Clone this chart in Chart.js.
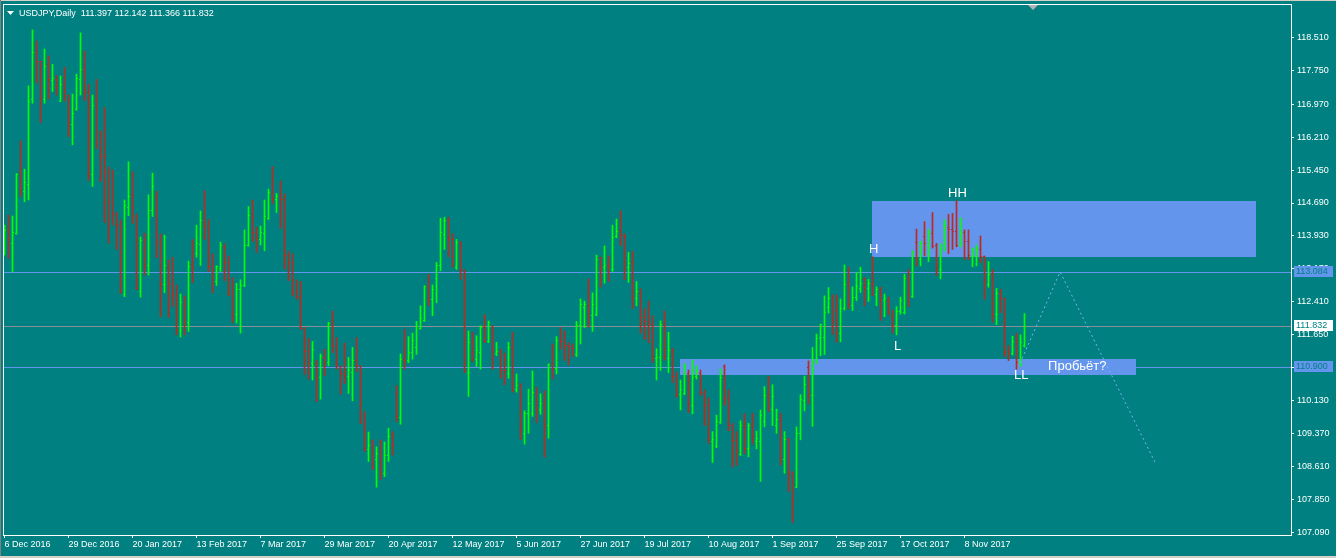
<!DOCTYPE html>
<html>
<head>
<meta charset="utf-8">
<title>USDJPY Daily</title>
<script src="https://cdn.jsdelivr.net/npm/chart.js@4/dist/chart.umd.min.js"></script>
<style>
  html, body { margin: 0; padding: 0; background: #008080; overflow: hidden; }
  canvas { display: block; }
</style>
</head>
<body>
<canvas id="usdjpyChart" width="1336" height="558"></canvas>
<script>
// daily bars, 6 Dec 2016 .. end of Nov 2017 (one value per bar)
const opens = [
  113.53,114.05,113.76,113.99,115.41,114.96,115.12,117.08,118.16,117.95,
  117.08,117.89,117.52,117.54,117.04,117.43,117.16,116.50,116.85,117.53,
  117.74,117.24,115.34,117.03,115.80,115.76,115.40,114.71,114.41,114.18,
  112.59,114.59,114.85,114.38,112.65,113.61,113.26,114.52,114.84,113.76,
  112.80,113.21,112.82,112.49,111.75,112.36,111.93,113.25,113.53,113.74,
  114.21,114.13,113.22,112.88,113.18,113.68,113.31,112.65,112.13,112.69,
  112.78,113.72,114.38,114.01,113.84,113.98,114.34,114.93,114.76,114.85,
  114.76,113.47,113.31,112.65,112.53,111.79,111.26,110.99,110.99,110.67,
  111.13,111.02,111.90,111.38,110.92,110.75,110.70,110.79,111.06,110.94,
  109.63,109.01,109.07,108.77,108.92,108.46,108.86,109.30,110.32,109.75,
  111.09,111.07,111.25,111.36,111.80,111.99,112.75,112.46,112.95,113.25,
  113.97,114.28,113.88,113.20,113.78,113.13,110.79,111.48,111.09,111.25,
  111.82,111.49,111.76,111.21,111.24,110.84,110.75,111.36,110.38,110.47,
  109.38,109.83,109.83,110.33,109.94,110.07,109.57,110.96,110.88,111.52,
  111.49,111.40,111.38,111.19,111.86,112.29,112.32,112.09,112.11,113.43,
  113.20,113.25,113.15,113.91,114.03,113.94,113.21,113.30,112.49,112.61,
  112.06,111.96,111.90,111.10,111.13,111.90,111.11,111.28,110.69,110.27,
  110.30,110.75,110.03,110.70,110.75,110.32,110.03,109.20,109.07,109.64,
  110.92,110.19,109.56,109.21,108.90,109.57,109.04,109.57,109.19,109.19,
  109.65,110.25,109.94,109.55,109.71,108.78,109.23,108.46,108.14,109.38,
  110.14,110.90,110.25,111.03,111.59,111.60,112.28,112.49,112.22,111.69,
  112.25,112.80,112.32,112.52,112.71,112.92,112.72,112.84,112.57,112.69,
  112.44,112.42,112.07,111.86,112.20,112.17,112.94,112.53,113.78,113.39,
  113.91,113.72,113.99,113.72,113.16,113.72,114.13,114.08,114.03,113.72,
  114.01,113.80,113.45,113.45,113.61,113.45,112.80,113.05,112.13,112.61,
  112.49,111.26,111.23,111.50,111.01,111.397
];
const highs = [
  114.18,114.41,114.39,115.37,116.12,115.47,117.39,118.68,118.42,117.96,
  118.24,118.08,117.89,117.63,117.62,117.82,117.18,117.20,117.66,118.61,
  118.19,117.43,117.18,117.54,116.35,116.89,115.52,115.45,114.48,114.30,
  114.76,115.64,115.41,114.44,113.91,113.99,114.88,115.38,114.96,113.98,
  113.95,113.37,113.44,112.80,112.59,112.55,113.35,113.85,114.18,114.51,
  114.97,114.31,113.52,113.24,113.79,113.75,113.47,112.97,112.84,112.92,
  114.07,114.61,114.76,114.13,114.16,114.76,115.01,115.53,114.91,115.20,
  114.90,113.57,113.52,112.92,112.88,111.82,111.57,111.50,111.06,111.21,
  111.32,111.94,112.20,111.59,110.93,111.46,111.13,111.36,111.59,110.94,
  109.88,109.41,109.23,109.07,109.23,109.18,109.50,109.42,110.48,111.21,
  111.78,111.61,111.69,111.96,112.32,112.78,113.05,112.80,113.32,114.34,
  114.36,114.36,113.98,113.85,113.80,113.15,111.74,111.71,111.63,111.86,
  112.12,111.97,111.86,111.48,111.32,111.23,111.48,111.71,110.75,110.53,
  109.90,110.40,110.82,110.44,110.29,110.36,110.98,111.44,111.61,111.82,
  111.74,111.47,111.44,111.96,112.48,112.43,112.94,112.62,113.49,113.44,
  113.70,113.47,114.18,114.32,114.51,113.98,113.55,113.58,112.88,112.71,
  112.25,112.43,112.09,111.33,111.97,112.20,111.71,111.34,110.79,110.61,
  110.99,110.84,111.07,110.93,110.84,110.38,110.20,109.42,109.80,110.86,
  110.96,110.38,109.61,109.42,109.67,109.83,109.61,109.84,109.43,109.92,
  110.46,110.69,110.50,109.94,109.84,109.42,109.27,108.50,109.53,110.27,
  110.70,111.05,111.36,111.67,111.90,112.55,112.74,112.57,112.57,112.48,
  113.26,113.21,112.76,113.09,113.21,112.97,112.93,113.45,112.76,112.75,
  112.59,112.52,112.22,112.30,112.52,113.05,113.16,113.58,114.09,113.81,
  114.26,114.08,114.47,113.76,113.75,114.30,114.43,114.45,114.74,114.35,
  114.07,114.07,113.65,113.72,113.93,113.47,113.34,113.16,112.72,112.70,
  112.50,111.40,111.62,111.69,111.65,112.142
];
const lows = [
  113.49,113.42,113.11,113.97,114.84,114.72,114.76,116.99,117.46,116.54,
  116.99,117.09,117.26,117.18,117.03,117.04,116.22,116.03,116.83,117.18,
  117.05,115.21,115.07,115.94,115.18,114.24,113.76,114.18,113.62,112.61,
  112.53,114.40,114.22,112.70,112.52,113.03,113.03,114.38,113.43,112.07,
  112.62,112.05,112.30,111.65,111.60,111.65,111.73,112.85,113.44,113.25,
  113.85,113.11,112.62,112.79,113.11,112.90,112.55,111.93,111.92,111.69,
  112.76,113.69,113.80,113.55,113.72,113.59,114.31,114.67,114.47,114.11,
  113.17,112.90,112.55,112.47,111.78,110.74,110.63,110.61,110.11,110.17,
  110.71,110.94,111.24,110.86,110.28,110.53,110.30,110.13,110.80,109.61,
  108.97,108.73,108.55,108.14,108.32,108.38,108.73,108.88,109.65,109.59,
  110.86,111.01,111.09,111.20,111.78,111.96,112.32,112.09,112.39,113.13,
  113.62,113.45,113.21,113.16,112.93,110.78,110.23,111.03,110.92,110.86,
  111.47,111.47,110.86,111.17,110.65,110.50,110.65,110.33,110.33,109.24,
  109.13,109.38,109.77,109.63,109.82,108.83,109.27,110.63,110.75,111.32,
  111.06,110.96,111.15,111.15,111.44,111.82,111.83,111.73,112.09,112.75,
  112.84,112.88,113.11,113.89,113.71,112.92,112.86,112.26,112.32,111.69,
  111.55,111.47,111.01,110.61,110.83,111.06,110.78,110.55,110.21,109.92,
  110.27,109.86,109.83,110.63,110.25,109.56,109.15,108.71,109.05,109.61,
  110.03,109.44,108.60,108.64,108.87,108.91,108.84,109.13,109.02,108.27,
  109.53,109.88,109.56,109.38,108.65,108.46,108.04,107.32,108.13,109.23,
  109.90,110.06,109.54,110.99,111.17,111.20,112.15,111.66,111.48,111.49,
  112.22,112.25,112.21,112.44,112.63,112.32,112.42,112.55,112.32,111.98,
  112.07,112.11,111.69,111.65,112.13,112.13,112.30,112.51,113.24,113.24,
  113.47,113.34,113.65,113.02,112.94,113.59,113.52,113.62,113.68,113.68,
  113.39,113.38,113.22,113.24,113.32,112.47,112.75,111.94,111.89,112.16,
  111.15,111.06,111.19,110.86,110.93,111.366
];
const closes = [
  114.05,113.84,114.02,115.34,115.03,115.17,117.04,118.16,117.95,117.10,
  117.83,117.54,117.55,117.37,117.43,117.27,116.55,116.76,117.56,117.76,
  117.26,115.34,116.94,116.07,115.76,115.40,114.72,114.45,114.18,112.63,
  114.64,114.85,114.59,112.72,113.82,113.26,114.52,115.08,113.80,112.80,
  113.26,112.84,112.59,111.75,112.40,111.93,113.22,113.21,113.76,114.28,
  114.16,113.22,113.13,113.22,113.70,113.31,112.61,112.13,112.70,112.78,
  113.72,114.41,114.01,113.88,114.00,114.38,114.93,114.76,114.85,114.76,
  113.47,113.31,112.65,112.53,111.79,111.26,110.99,111.32,110.67,111.15,
  111.02,111.92,111.40,110.96,110.75,110.71,110.83,111.06,110.94,109.63,
  109.00,109.10,108.58,108.92,108.46,108.86,109.30,109.09,109.77,111.09,
  111.07,111.25,111.53,111.84,112.02,112.76,112.46,112.69,113.26,114.02,
  114.28,113.88,113.84,113.78,113.15,110.80,111.48,111.25,111.30,111.82,
  111.49,111.94,111.29,111.26,110.84,110.82,111.36,110.37,110.48,109.42,
  109.83,110.06,110.33,109.94,110.07,109.57,110.96,110.88,111.53,111.49,
  111.40,111.38,111.33,111.86,112.36,112.34,112.19,112.36,113.39,113.19,
  113.26,113.22,113.90,114.03,113.94,113.91,113.30,112.53,112.65,112.06,
  111.96,111.90,111.13,111.13,111.90,111.16,111.28,110.69,110.27,110.40,
  110.93,110.06,110.67,110.80,110.32,110.03,109.23,109.23,109.65,110.67,
  110.19,109.56,109.21,108.96,109.57,109.04,109.57,109.34,109.25,109.78,
  110.25,109.98,110.24,109.71,108.79,109.23,108.46,107.86,109.38,110.17,
  110.50,110.25,110.86,111.57,111.88,112.17,112.49,111.99,111.69,112.26,
  112.82,112.35,112.52,112.76,112.84,112.74,112.84,112.82,112.69,112.57,
  112.49,112.32,111.86,112.20,112.45,112.95,112.55,113.57,113.41,113.76,
  113.75,113.99,113.68,113.16,113.61,114.16,114.08,114.03,113.72,113.99,
  113.80,113.47,113.61,113.61,113.45,112.88,113.05,112.12,112.61,112.49,
  111.24,111.22,111.50,111.01,111.47,111.832
];

// time axis: a label every 16 bars
const dateLabels = ['6 Dec 2016', '29 Dec 2016', '20 Jan 2017', '13 Feb 2017', '7 Mar 2017', '29 Mar 2017',
  '20 Apr 2017', '12 May 2017', '5 Jun 2017', '27 Jun 2017', '19 Jul 2017', '10 Aug 2017',
  '1 Sep 2017', '25 Sep 2017', '17 Oct 2017', '8 Nov 2017'];
const dateStep = 16;

// price axis
const priceTicks = [107.09, 107.85, 108.61, 109.37, 110.13, 110.89, 111.65, 112.41,
  113.17, 113.93, 114.69, 115.45, 116.21, 116.97, 117.75, 118.51];

// horizontal levels and the bid line
const levelPrices = [113.084, 110.900];
const bidPrice = 111.832;

// drawn objects: zones (bar index / price), forecast path, text marks
const zoneStart = [216.9, 168.9];
const zoneEnd = [312.9, 282.9];
const zoneTop = [114.736, 111.094];
const zoneBottom = [113.452, 110.725];

const forecastX = [253.9, 263.9, 287.6];
const forecastY = [111.00, 113.10, 108.72];

const markText = ['HH', 'H', 'L', 'LL', 'Пробьёт?'];
const markX = [235.9, 216.1, 222.4, 252.4, 260.9];
const markY = [115.07, 113.78, 111.54, 110.875, 111.08];

const symbolTitle = 'USDJPY,Daily';
const lastBar = [111.397, 112.142, 111.366, 111.832];

const BG = '#008080';
const BULL = '#00ff00';
const BEAR = '#c0281e';
const ZONE = '#6495ed';
const WHITE = '#ffffff';

Chart.defaults.font.family = '"Liberation Sans", Arial, sans-serif';
Chart.defaults.font.size = 9;
Chart.defaults.color = WHITE;

const barColors = closes.map((c, i) => (c >= opens[i] ? BULL : BEAR));

const mt4Plugin = {
  id: 'mt4',
  beforeDraw(chart) {
    const { ctx, width, height } = chart;
    ctx.save();
    ctx.fillStyle = BG;
    ctx.fillRect(0, 0, width, height);
    ctx.fillStyle = '#d4d0c8';
    ctx.fillRect(0, 0, width, 1);
    ctx.fillRect(0, height - 2, width, 2);
    ctx.fillStyle = '#808080';
    ctx.fillRect(0, 0, 1, height - 2);
    ctx.restore();
  },
  beforeDatasetsDraw(chart) {
    const { ctx, chartArea: a, scales: { x, y } } = chart;
    ctx.save();
    ctx.beginPath();
    ctx.rect(a.left, a.top, a.right - a.left, a.bottom - a.top);
    ctx.clip();
    ctx.fillStyle = ZONE;
    zoneStart.forEach((s, k) => {
      const x0 = Math.round(x.getPixelForValue(s));
      const x1 = Math.round(x.getPixelForValue(zoneEnd[k]));
      const y0 = Math.round(y.getPixelForValue(zoneTop[k]));
      const y1 = Math.round(y.getPixelForValue(zoneBottom[k]));
      ctx.fillRect(x0, y0, x1 - x0, y1 - y0);
    });
    levelPrices.forEach(p => {
      ctx.fillRect(a.left, Math.floor(y.getPixelForValue(p)), a.right - a.left, 1);
    });
    ctx.fillStyle = '#8a8f98';
    ctx.fillRect(a.left, Math.floor(y.getPixelForValue(bidPrice)), a.right - a.left, 1);
    ctx.restore();
  },
  afterDatasetsDraw(chart) {
    const { ctx, chartArea: a, scales: { x, y } } = chart;
    ctx.save();
    // open / close ticks of each bar
    opens.forEach((o, i) => {
      const px = Math.floor(x.getPixelForValue(i));
      ctx.fillStyle = barColors[i];
      ctx.fillRect(px - 1, Math.floor(y.getPixelForValue(o)), 1, 1);
      ctx.fillRect(px + 1, Math.floor(y.getPixelForValue(closes[i])), 1, 1);
    });
    // text marks
    ctx.fillStyle = WHITE;
    ctx.font = '13px "Liberation Sans", Arial, sans-serif';
    ctx.textAlign = 'left';
    ctx.textBaseline = 'top';
    markText.forEach((t, k) => {
      ctx.fillText(t, x.getPixelForValue(markX[k]), y.getPixelForValue(markY[k]));
    });
    ctx.restore();
  },
  afterDraw(chart) {
    const { ctx, chartArea: a, scales: { x, y } } = chart;
    ctx.save();
    // frame
    ctx.strokeStyle = WHITE;
    ctx.lineWidth = 1;
    ctx.strokeRect(a.left + 0.5, a.top + 0.5, a.right - a.left, a.bottom - a.top);

    // chart shift marker
    const sx = Math.round(x.getPixelForValue(257.1));
    ctx.fillStyle = '#b4b4b4';
    ctx.beginPath();
    ctx.moveTo(sx - 5, a.top + 1);
    ctx.lineTo(sx + 5, a.top + 1);
    ctx.lineTo(sx, a.top + 6);
    ctx.closePath();
    ctx.fill();

    // price boxes on the axis
    ctx.font = '9px "Liberation Sans", Arial, sans-serif';
    ctx.textBaseline = 'middle';
    ctx.textAlign = 'left';
    const box = (price, fill) => {
      const py = Math.floor(y.getPixelForValue(price));
      ctx.fillStyle = fill;
      ctx.fillRect(a.right + 3, py - 6, 39, 11);
      ctx.fillStyle = BG;
      ctx.fillText(price.toFixed(3), a.right + 5, py);
    };
    levelPrices.forEach(p => box(p, ZONE));
    box(bidPrice, WHITE);

    // title
    ctx.fillStyle = WHITE;
    ctx.beginPath();
    ctx.moveTo(7, 11);
    ctx.lineTo(14, 11);
    ctx.lineTo(10.5, 15);
    ctx.closePath();
    ctx.fill();
    ctx.textBaseline = 'alphabetic';
    ctx.fillText(symbolTitle + '  ' + lastBar.map(v => v.toFixed(3)).join(' '), 19, 16);
    ctx.restore();
  }
};

const ctx = document.getElementById('usdjpyChart').getContext('2d');
const usdjpyChart = new Chart(ctx, {
  data: {
    datasets: [
      {
        type: 'line',
        label: 'forecast',
        data: forecastX.map((v, k) => ({ x: v, y: forecastY[k] })),
        borderColor: '#7ab4f0',
        borderWidth: 1,
        borderDash: [2, 3],
        pointRadius: 0,
        fill: false,
        tension: 0
      },
      {
        type: 'bar',
        label: 'USDJPY',
        data: highs.map((h, i) => ({ x: i, y: [lows[i], h] })),
        backgroundColor: barColors,
        borderWidth: 0,
        barThickness: 1,
        grouped: false
      }
    ]
  },
  options: {
    responsive: false,
    animation: false,
    events: [],
    layout: { padding: { left: 3, top: 4, right: 0, bottom: 0 } },
    plugins: { legend: { display: false }, tooltip: { enabled: false } },
    scales: {
      x: {
        type: 'linear',
        position: 'bottom',
        offset: false,
        min: -0.375,
        max: 321.625,
        afterBuildTicks: scale => {
          scale.ticks = dateLabels.map((d, k) => ({ value: k * dateStep }));
        },
        afterFit: scale => {
          scale.height = 23;
          scale.paddingLeft = 0;
          scale.paddingRight = 0;
        },
        grid: { offset: false, drawOnChartArea: false, drawTicks: true, tickLength: 3, color: WHITE },
        border: { display: false },
        ticks: {
          autoSkip: false,
          maxRotation: 0,
          align: 'start',
          padding: 1,
          color: WHITE,
          callback: (v, idx) => dateLabels[idx]
        }
      },
      y: {
        type: 'linear',
        position: 'right',
        min: 107.0366,
        max: 119.2776,
        afterBuildTicks: scale => {
          scale.ticks = priceTicks.map(v => ({ value: v }));
        },
        afterFit: scale => {
          scale.width = 45;
          scale.paddingTop = 0;
          scale.paddingBottom = 0;
        },
        grid: { drawOnChartArea: false, drawTicks: true, tickLength: 3, color: WHITE },
        border: { display: false },
        ticks: {
          autoSkip: false,
          padding: 3,
          color: WHITE,
          callback: v => v.toFixed(3)
        }
      }
    }
  },
  plugins: [mt4Plugin]
});
</script>
</body>
</html>
